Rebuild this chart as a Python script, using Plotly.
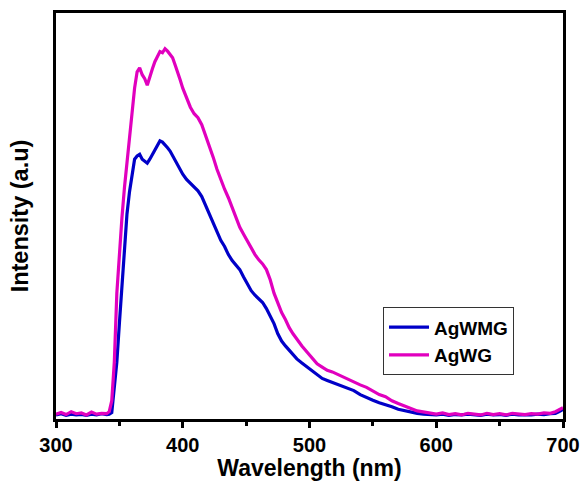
import plotly.graph_objects as go

# AgWG (magenta) spectrum
wl_agwg = [300,304,308,312,316,320,324,328,332,336,340,342,344,346,348,350,352,354,356,358,
           360,362,364,366,368,370,372,374,376,378,380,382,384,386,388,390,392,394,396,398,
           400,403,406,409,412,415,418,421,424,427,430,433,436,439,442,445,448,451,454,457,
           460,463,466,469,472,475,478,481,484,487,490,494,498,502,506,510,514,518,522,526,
           530,535,540,545,550,555,560,565,570,575,580,585,590,595,600,605,610,615,620,625,
           630,635,640,645,650,655,660,665,670,675,680,685,690,694,697,700]
int_agwg = [12,16,11,18,13,15,10,17,12,14,13,18,45,140,310,410,495,570,630,680,
            750,815,855,865,848,838,822,845,862,880,893,905,902,912,906,898,890,872,855,835,
            815,790,768,752,742,725,700,670,645,615,588,566,545,520,500,472,455,437,422,405,
            392,382,368,343,310,285,262,245,225,210,196,180,165,150,136,128,120,116,110,106,
            100,92,84,78,68,60,55,45,38,33,26,20,17,14,12,15,11,13,10,14,
            12,10,14,11,13,10,14,12,11,13,12,15,14,18,22,28]

# AgWMG (blue) spectrum
wl_agwmg = [300,304,308,312,316,320,324,328,332,336,340,342,344,346,348,350,352,354,356,358,
            360,362,364,366,368,370,372,374,376,378,380,382,384,386,388,390,392,394,396,398,
            400,403,406,409,412,415,418,421,424,427,430,433,436,439,442,445,448,451,454,457,
            460,463,466,469,472,475,478,481,484,487,490,494,498,502,506,510,514,518,522,526,
            530,535,540,545,550,555,560,565,570,575,580,585,590,595,600,605,610,615,620,625,
            630,635,640,645,650,655,660,665,670,675,680,685,690,694,697,700]
int_agwmg = [10,13,9,12,10,11,9,12,10,13,11,12,16,70,140,235,335,420,505,560,
             605,640,648,652,640,635,630,640,652,665,675,685,682,676,668,660,648,636,625,613,
             603,590,580,572,562,548,527,505,485,462,440,425,405,390,378,368,350,332,316,305,
             296,287,272,255,235,210,192,180,170,158,148,138,128,118,110,100,95,90,86,82,
             76,70,60,52,46,40,36,30,24,20,16,14,12,11,10,12,9,11,10,12,
             10,9,12,10,11,9,12,10,11,10,12,11,13,14,18,24]

x_ticks = [300, 400, 500, 600, 700]

fig = go.Figure()
fig.add_trace(go.Scatter(x=wl_agwmg, y=int_agwmg, mode="lines", name="AgWMG",
                         line=dict(color="#0000C8", width=3.2)))
fig.add_trace(go.Scatter(x=wl_agwg, y=int_agwg, mode="lines", name="AgWG",
                         line=dict(color="#E100BE", width=3.2)))

fig.update_layout(
    width=582, height=481,
    margin=dict(l=56, r=19, t=13, b=62),
    paper_bgcolor="white", plot_bgcolor="white",
    font=dict(family="Liberation Sans, Arial, sans-serif", color="black"),
    showlegend=True,
    legend=dict(x=0.645, y=0.275, xanchor="left", yanchor="top",
                bgcolor="white", bordercolor="#333333", borderwidth=1,
                font=dict(size=19, weight="bold", color="black"),
                tracegroupgap=0, itemwidth=40),
)
fig.update_xaxes(
    range=[300, 700], tickvals=x_ticks, ticktext=[str(v) for v in x_ticks],
    automargin=False,
    showgrid=False, zeroline=False,
    showline=True, linecolor="black", linewidth=3, mirror=True,
    ticks="outside", ticklen=6, tickwidth=2.5, tickcolor="black",
    minor=dict(dtick=50, ticks="outside", ticklen=4, tickwidth=2.5, tickcolor="black"),
    tickfont=dict(size=20, weight="bold", color="black"),
    title=dict(text="Wavelength (nm)", font=dict(size=23, weight="bold", color="black"), standoff=4),
)
fig.update_yaxes(
    range=[0, 1000], showticklabels=False, ticks="",
    automargin=False,
    showgrid=False, zeroline=False,
    showline=True, linecolor="black", linewidth=3, mirror=True,
    title=dict(text="Intensity (a.u)", font=dict(size=23.5, weight="bold", color="black"), standoff=18),
)

fig.write_html("out.html")
